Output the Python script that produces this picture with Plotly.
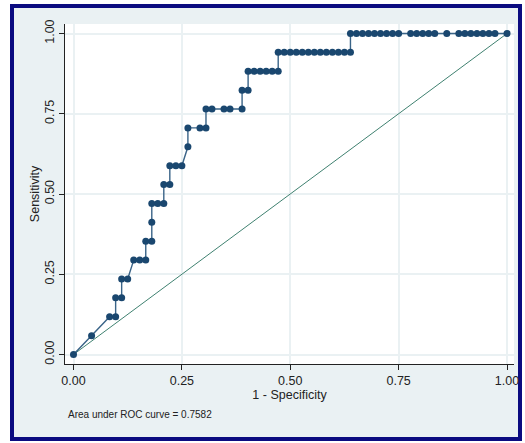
import plotly.graph_objects as go

# 1 - Specificity (false positive rate) at each cutpoint
fpr = [0.0, 0.0417, 0.0833, 0.0972, 0.0972, 0.1111, 0.1111, 0.125, 0.1389, 0.1528,
       0.1667, 0.1667, 0.1806, 0.1806, 0.1806, 0.1944, 0.2083, 0.2083, 0.2222, 0.2222,
       0.2361, 0.25, 0.2639, 0.2639, 0.2917, 0.3056, 0.3056, 0.3194, 0.3472, 0.3611,
       0.3889, 0.3889, 0.4028, 0.4028, 0.4167, 0.4306, 0.4444, 0.4583, 0.4722, 0.4722,
       0.4861, 0.5, 0.5139, 0.5278, 0.5417, 0.5556, 0.5694, 0.5833, 0.5972, 0.6111,
       0.625, 0.6389, 0.6389, 0.6528, 0.6667, 0.6806, 0.6944, 0.7083, 0.7222, 0.7361,
       0.75, 0.7778, 0.7917, 0.8056, 0.8194, 0.8333, 0.8611, 0.8889, 0.9028, 0.9167,
       0.9306, 0.9444, 0.9583, 0.9722, 1.0]
# Sensitivity at each cutpoint
sens = [0.0, 0.0588, 0.1176, 0.1176, 0.1765, 0.1765, 0.2353, 0.2353, 0.2941, 0.2941,
        0.2941, 0.3529, 0.3529, 0.4118, 0.4706, 0.4706, 0.4706, 0.5294, 0.5294, 0.5882,
        0.5882, 0.5882, 0.6471, 0.7059, 0.7059, 0.7059, 0.7647, 0.7647, 0.7647, 0.7647,
        0.7647, 0.8235, 0.8235, 0.8824, 0.8824, 0.8824, 0.8824, 0.8824, 0.8824, 0.9412,
        0.9412, 0.9412, 0.9412, 0.9412, 0.9412, 0.9412, 0.9412, 0.9412, 0.9412, 0.9412,
        0.9412, 0.9412, 1.0, 1.0, 1.0, 1.0, 1.0, 1.0, 1.0, 1.0,
        1.0, 1.0, 1.0, 1.0, 1.0, 1.0, 1.0, 1.0, 1.0, 1.0,
        1.0, 1.0, 1.0, 1.0, 1.0]
ref_x = [0.0, 1.0]
ref_y = [0.0, 1.0]
tick_vals = [0.0, 0.25, 0.5, 0.75, 1.0]
tick_text = ["0.00", "0.25", "0.50", "0.75", "1.00"]
auc_text = "Area under ROC curve = 0.7582"

W, H = 525, 443
L, R, T, B = 65, 11, 24, 79
pw, ph = W - L - R, H - T - B

def px_x(p):
    return (p - L) / pw

def px_y(p):
    return (H - B - p) / ph

FONT = "Liberation Sans, Arial, sans-serif"
NAVY = "#1A476F"

fig = go.Figure()
fig.add_trace(go.Scatter(x=ref_x, y=ref_y, mode="lines",
                         line=dict(color="#3F8170", width=1), hoverinfo="skip",
                         showlegend=False))
fig.add_trace(go.Scatter(x=fpr, y=sens, mode="lines+markers",
                         line=dict(color="#3A6488", width=1.4),
                         marker=dict(color=NAVY, size=7, line=dict(width=0)),
                         showlegend=False))

fig.update_layout(
    width=W, height=H, autosize=False,
    margin=dict(l=L, r=R, t=T, b=B, pad=0, autoexpand=False),
    paper_bgcolor="white",
    plot_bgcolor="rgba(0,0,0,0)",
    font=dict(family=FONT, size=12, color="#222222"),
    shapes=[
        dict(type="rect", xref="paper", yref="paper", layer="below",
             x0=px_x(12), x1=px_x(520), y0=px_y(439), y1=px_y(6),
             fillcolor="#EAF1F3", line=dict(color="#0B0B80", width=4)),
        dict(type="rect", xref="paper", yref="paper", layer="below",
             x0=0, x1=1, y0=0, y1=1, fillcolor="white", line=dict(width=0)),
    ],
    annotations=[
        dict(text=auc_text, xref="paper", yref="paper", x=px_x(66), y=px_y(415),
             xanchor="left", yanchor="middle", showarrow=False,
             font=dict(family=FONT, size=10, color="#222222")),
    ],
)

fig.update_xaxes(
    range=[(65 - 73.5) / 433.5, 1 + (514 - 507) / 433.5], automargin=False,
    tickvals=tick_vals, ticktext=tick_text,
    showgrid=True, gridcolor="#EAF1F3", gridwidth=1.5,
    zeroline=False, showline=True, linecolor="#222222", linewidth=1,
    ticks="outside", ticklen=5, tickcolor="#222222",
    tickfont=dict(size=12.5),
    title=dict(text="1 - Specificity", standoff=2, font=dict(size=12.5)),
)
fig.update_yaxes(
    range=[-9.5 / 321, 1 + 9.5 / 321], automargin=False,
    tickvals=tick_vals, ticktext=tick_text, tickangle=-90,
    showgrid=True, gridcolor="#EAF1F3", gridwidth=1.5,
    zeroline=False, showline=True, linecolor="#222222", linewidth=1,
    ticks="outside", ticklen=5, tickcolor="#222222",
    tickfont=dict(size=12.5),
    title=dict(text="Sensitivity", standoff=0, font=dict(size=12.5)),
)

fig.write_html(
    "out.html",
    config={"displayModeBar": False, "responsive": False},
    post_script=("document.documentElement.style.margin='0px';"
                 "document.body.style.margin='0px';"
                 "document.documentElement.style.overflow='hidden';"
                 "document.body.style.overflow='hidden';"),
)
